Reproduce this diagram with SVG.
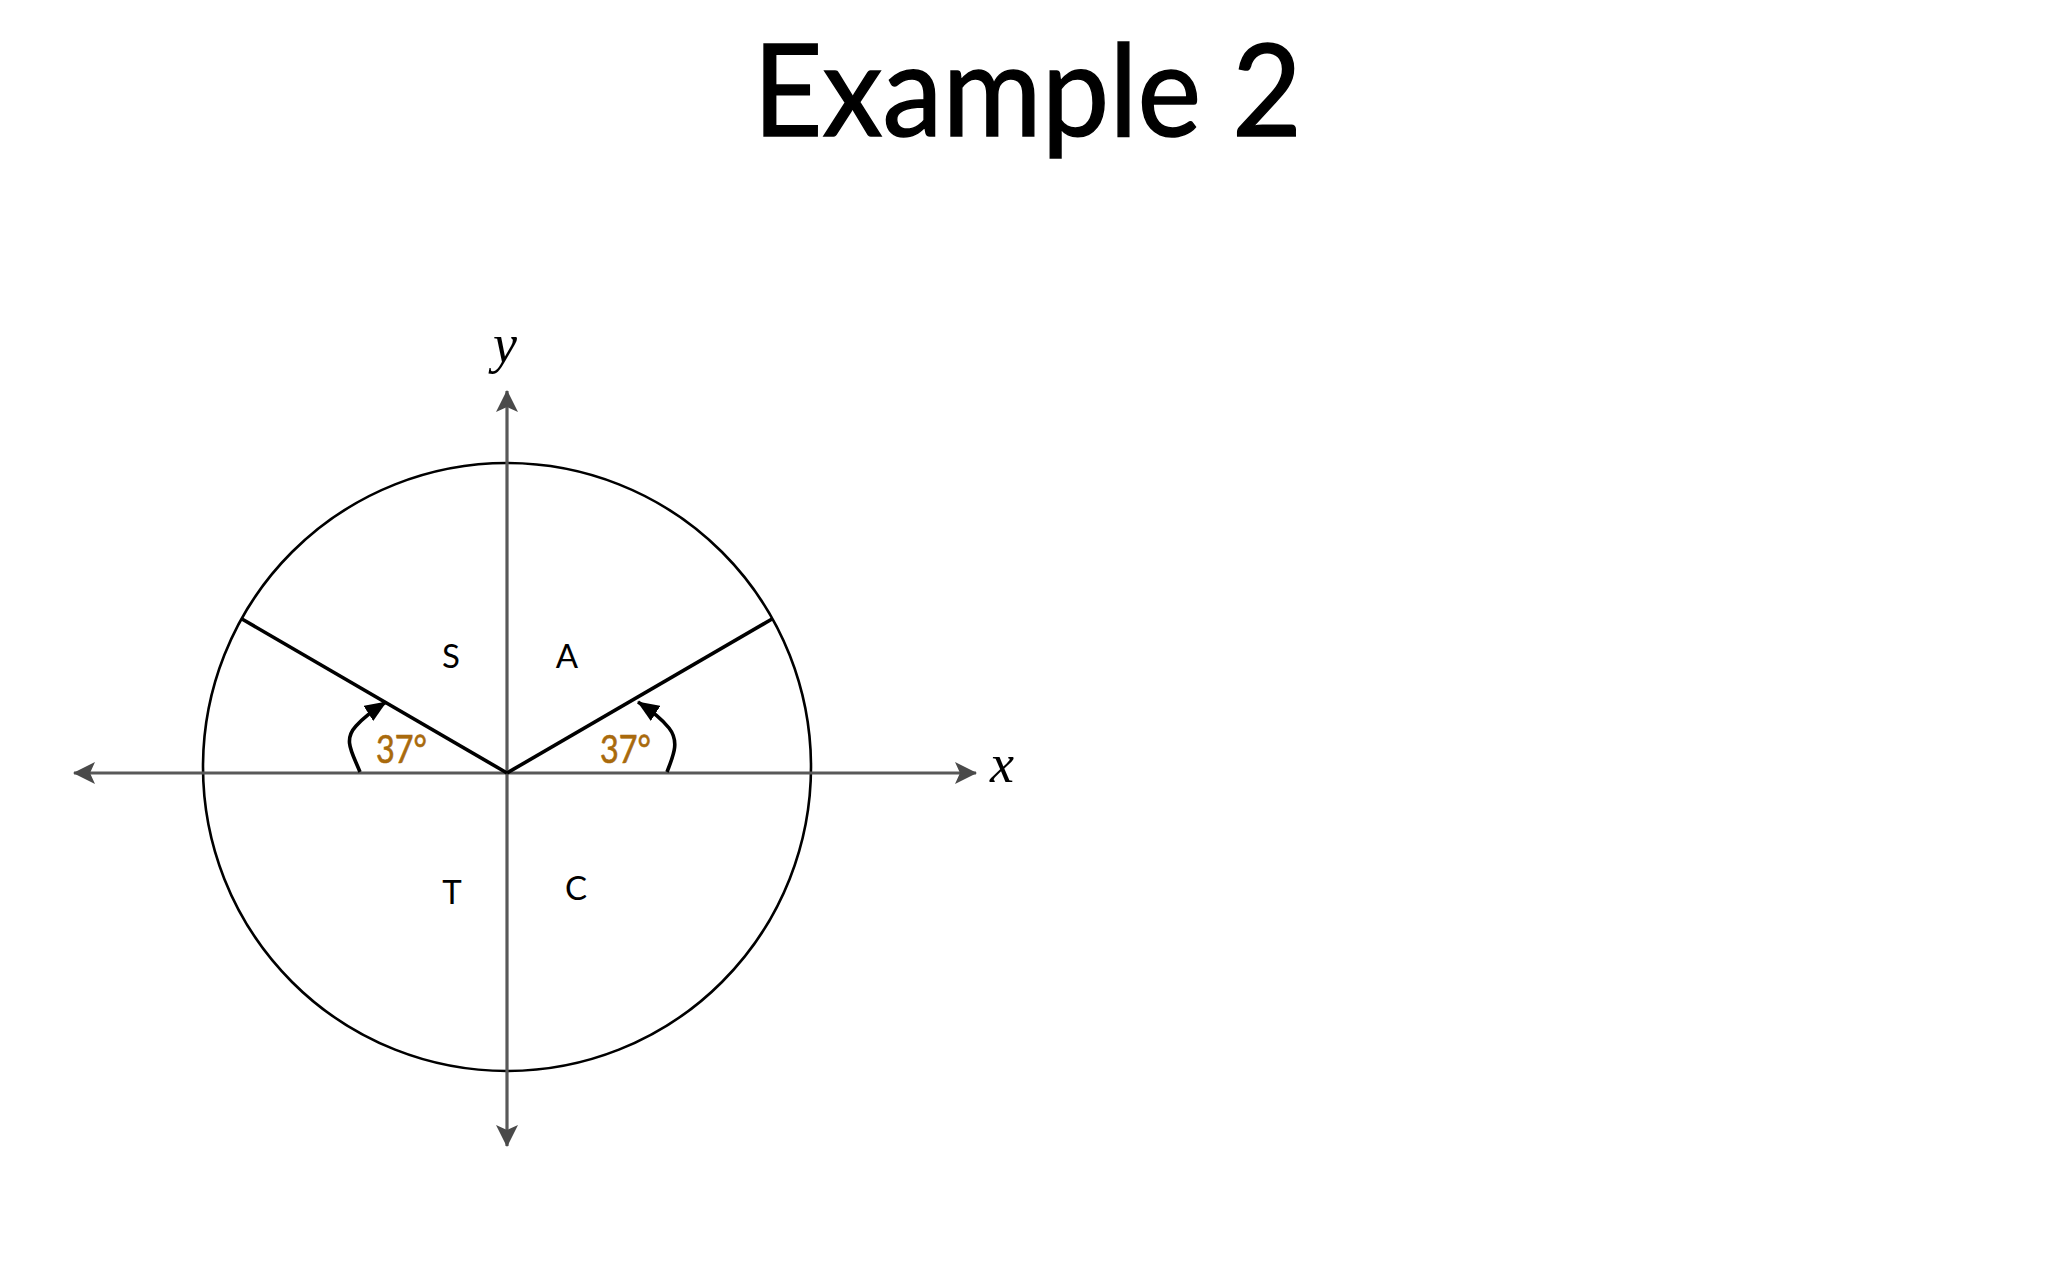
<svg xmlns="http://www.w3.org/2000/svg" width="2048" height="1280" viewBox="0 0 2048 1280">
<style>
.axis{stroke:#595959;stroke-width:3.2;fill:none}
.ray{stroke:#000;stroke-width:3.6;fill:none;stroke-linecap:butt}
.arc{stroke:#000;stroke-width:3.6;fill:none}
.quad{font-family:Lato,"Liberation Sans",sans-serif;font-size:33px;fill:#000;text-anchor:middle}
.ang{font-family:Lato,"Liberation Sans",sans-serif;font-size:38px;fill:#a96a0c;stroke:#a96a0c;stroke-width:0.6}
.var{font-family:"Liberation Serif",serif;font-style:italic;font-size:54px;fill:#000}
</style>
<defs>
<marker id="ah" viewBox="0 0 22 22" refX="21" refY="11" markerWidth="22" markerHeight="22" markerUnits="userSpaceOnUse" orient="auto">
<path d="M0,0 L22,11 L0,22 L5,11 Z" fill="#4a4a4a"/>
</marker>
<marker id="bh" viewBox="0 0 22 18" refX="21" refY="9" markerWidth="22" markerHeight="18" markerUnits="userSpaceOnUse" orient="auto">
<path d="M0,0 L22,9 L0,18 Z" fill="#000"/>
</marker>
</defs>
<rect width="2048" height="1280" fill="#fff"/>
<g id="title"><text x="753" y="136" font-family="Lato,'Liberation Sans',sans-serif" font-size="128" textLength="549" lengthAdjust="spacingAndGlyphs" stroke="#000" stroke-width="1.5">Example 2</text></g>
<g id="circle"><circle cx="507" cy="767" r="304" fill="none" stroke="#000" stroke-width="2.6"/></g>
<g id="connectors">
<line class="axis" x1="507" y1="773" x2="976" y2="773" marker-end="url(#ah)"/>
<line class="axis" x1="507" y1="773" x2="74" y2="773" marker-end="url(#ah)"/>
<line class="axis" x1="507" y1="773" x2="507" y2="391" marker-end="url(#ah)"/>
<line class="axis" x1="507" y1="773" x2="507" y2="1146" marker-end="url(#ah)"/>
<line class="ray" x1="507" y1="773" x2="772" y2="619"/>
<line class="ray" x1="507" y1="773" x2="242" y2="619"/>
<path class="arc" d="M360,772 C352,752 343,740 356,726 C364,717 372,711 386,702" marker-end="url(#bh)"/>
<path class="arc" d="M667,772 C673,756 680,742 669,728 C661,718 652,711 638,702" marker-end="url(#bh)"/>
</g>
<g id="labels">
<text class="var" x="493" y="362">y</text>
<text class="var" x="990" y="782">x</text>
<text class="quad" x="451" y="668">S</text>
<text class="quad" x="567" y="668">A</text>
<text class="quad" x="452" y="904">T</text>
<text class="quad" x="576" y="900">C</text>
<text class="ang" x="376" y="763" textLength="51" lengthAdjust="spacingAndGlyphs">37°</text>
<text class="ang" x="600" y="763" textLength="51" lengthAdjust="spacingAndGlyphs">37°</text>
</g>
</svg>
